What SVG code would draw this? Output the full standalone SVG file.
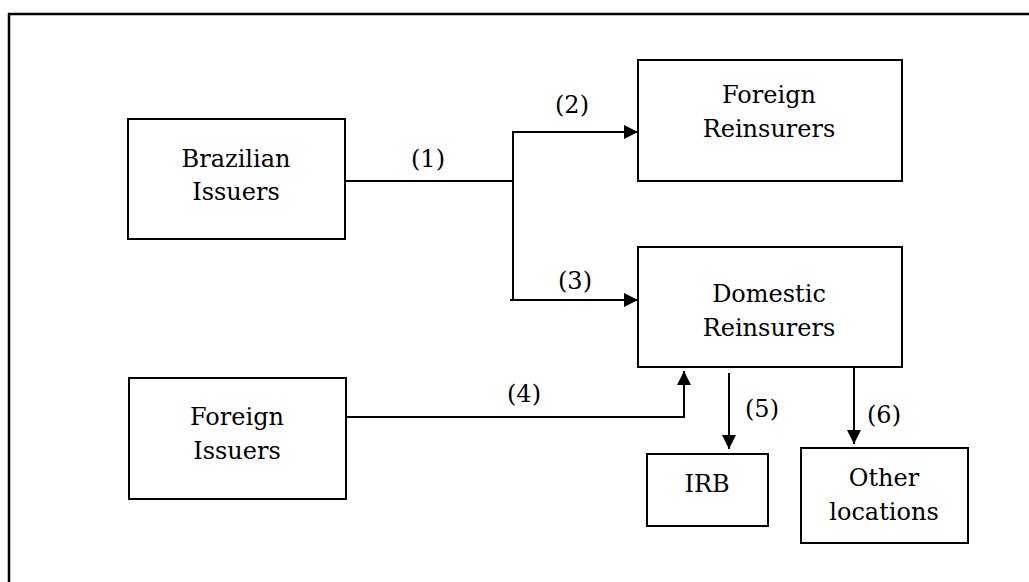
<svg xmlns="http://www.w3.org/2000/svg" width="1029" height="582" viewBox="0 0 1029 582" font-family="'DejaVu Serif', serif">
<defs>
<marker id="arr" markerWidth="14" markerHeight="14" refX="14" refY="7" orient="auto" markerUnits="userSpaceOnUse">
<path d="M0,0 L14,7 L0,14 Z" fill="#000"/>
</marker>
<style>
.box{fill:#fff;stroke:#000;stroke-width:2}
.t{font-size:24px;fill:#000;text-anchor:middle}
.c{fill:none;stroke:#000;stroke-width:2}
</style>
</defs>
<rect width="1029" height="582" fill="#fff"/>
<path d="M9,582 V14 H1029" fill="none" stroke="#000" stroke-width="2.5"/>
<g id="brazilian-issuers">
<rect class="box" x="128" y="119" width="217" height="120"/>
<text class="t" x="236" y="167">Brazilian</text>
<text class="t" x="236" y="200">Issuers</text>
</g>
<g id="foreign-reinsurers">
<rect class="box" x="638" y="60" width="264" height="121"/>
<text class="t" x="769" y="103">Foreign</text>
<text class="t" x="769" y="137">Reinsurers</text>
</g>
<g id="domestic-reinsurers">
<rect class="box" x="638" y="247" width="264" height="120"/>
<text class="t" x="769" y="302">Domestic</text>
<text class="t" x="769" y="336">Reinsurers</text>
</g>
<g id="foreign-issuers">
<rect class="box" x="129" y="378" width="217" height="121"/>
<text class="t" x="237" y="425">Foreign</text>
<text class="t" x="237" y="459">Issuers</text>
</g>
<g id="irb">
<rect class="box" x="647" y="454" width="121" height="72"/>
<text class="t" x="707" y="492">IRB</text>
</g>
<g id="other-locations">
<rect class="box" x="801" y="448" width="167" height="95"/>
<text class="t" x="884" y="486">Other</text>
<text class="t" x="884" y="520">locations</text>
</g>
<g id="connectors">
<path class="c" d="M345,181 H513"/>
<path class="c" d="M513,181 V132 H638" marker-end="url(#arr)"/>
<path class="c" d="M513,181 V300"/>
<path class="c" d="M510,300 H638" marker-end="url(#arr)"/>
<path class="c" d="M346,417 H684 V371" marker-end="url(#arr)"/>
<path class="c" d="M729,373 V449" marker-end="url(#arr)"/>
<path class="c" d="M854,367 V444" marker-end="url(#arr)"/>
<text class="t" x="428" y="167">(1)</text>
<text class="t" x="572" y="113">(2)</text>
<text class="t" x="575" y="289">(3)</text>
<text class="t" x="524" y="402">(4)</text>
<text class="t" x="762" y="417">(5)</text>
<text class="t" x="884" y="423">(6)</text>
</g>
</svg>
